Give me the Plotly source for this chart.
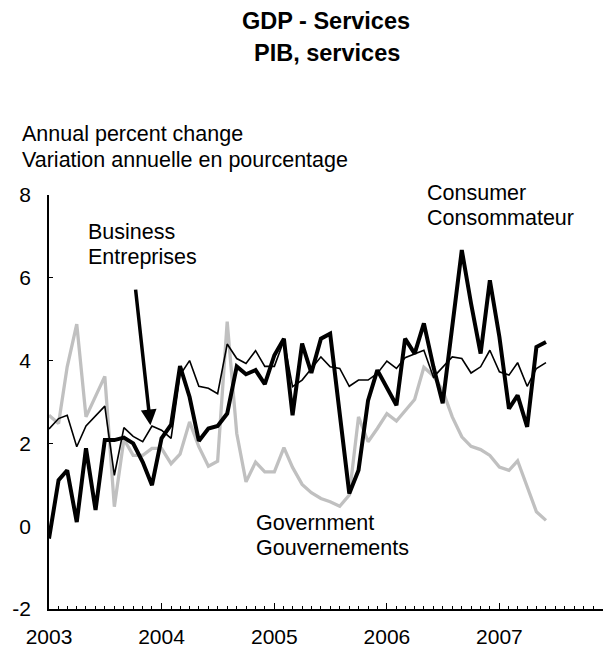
import pandas as pd
import plotly.graph_objects as go

months = pd.date_range("2003-01-01", periods=54, freq="MS")

business = [-0.3, 1.11, 1.35, 0.1, 1.88, 0.39, 2.08, 2.08, 2.14, 2.0, 1.55, 0.99, 2.12, 2.45,
            3.87, 3.12, 2.06, 2.36, 2.42, 2.72, 3.86, 3.67, 3.77, 3.43, 4.13, 4.53, 2.68, 4.41,
            3.7, 4.53, 4.65, 2.72, 0.79, 1.35, 3.04, 3.77, 3.35, 2.92, 4.53, 4.17, 4.9, 3.85,
            2.97, 4.8, 6.67, 5.38, 4.17, 5.94, 4.57, 2.84, 3.16, 2.4, 4.33, 4.45]

consumer = [2.35, 2.6, 2.68, 1.92, 2.42, 2.66, 2.9, 1.23, 2.38, 2.17, 2.04, 2.42, 2.32, 2.12,
            3.65, 4.0, 3.38, 3.33, 3.2, 4.4, 4.05, 3.93, 4.24, 3.86, 3.86, 4.49, 3.37, 3.53,
            3.81, 4.09, 3.85, 3.81, 3.38, 3.53, 3.53, 3.69, 3.99, 3.81, 4.07, 4.17, 4.25, 3.6,
            3.85, 4.09, 4.05, 3.7, 3.85, 4.25, 3.73, 3.65, 3.95, 3.38, 3.81, 3.95]

government = [2.68, 2.48, 3.85, 4.88, 2.64, 3.16, 3.62, 0.47, 2.1, 1.71, 1.71, 1.88, 1.88, 1.51,
              1.74, 2.52, 1.92, 1.45, 1.57, 4.94, 2.24, 1.07, 1.55, 1.31, 1.31, 1.9, 1.42, 1.01,
              0.81, 0.67, 0.59, 0.48, 0.75, 2.64, 2.04, 2.36, 2.72, 2.54, 2.8, 3.06, 3.84, 3.63,
              3.28, 2.64, 2.16, 1.93, 1.85, 1.71, 1.43, 1.35, 1.58, 0.95, 0.35, 0.14]

y_ticks = [-2, 0, 2, 4, 6, 8]
y_tick_labels = ["-2", "0", "2", "4", "6", "8"]

FONT = "Liberation Sans, Arial, sans-serif"
FS = 21.5

W, H = 603, 650
L, R, T, B = 49, 0, 195, 41
pw, ph = W - L - R, H - T - B


def px(x):
    return (x - L) / pw


def py(y):
    return (H - B - y) / ph


fig = go.Figure()
fig.add_trace(go.Scatter(x=months, y=government, mode="lines",
                         line=dict(color="#c0c0c0", width=3.3), name="Government"))
fig.add_trace(go.Scatter(x=months, y=consumer, mode="lines",
                         line=dict(color="black", width=1.6), name="Consumer"))
fig.add_trace(go.Scatter(x=months, y=business, mode="lines",
                         line=dict(color="black", width=4), name="Business"))

annos = []


def text(t, x, y, bold=False, xanchor="left"):
    annos.append(dict(text=f"<b>{t}</b>" if bold else t, x=px(x), y=py(y), xref="paper", yref="paper",
                      xanchor=xanchor, yanchor="middle", showarrow=False,
                      font=dict(family=FONT, size=23.5 if bold else FS, color="black")))


text("GDP - Services", 326, 21, bold=True, xanchor="center")
text("PIB, services", 327, 53, bold=True, xanchor="center")
text("Annual percent change", 20, 134)
text("Variation annuelle en pourcentage", 20, 160)
text("Business", 86, 232)
text("Entreprises", 86, 257)
text("Consumer", 425, 193)
text("Consommateur", 425, 218)
text("Government", 254, 523)
text("Gouvernements", 254, 548)

annos.append(dict(x="2003-11-26", y=2.44, xref="x", yref="y", ax=-15, ay=-137,
                  axref="pixel", ayref="pixel", showarrow=True, arrowhead=2,
                  arrowsize=0.9, arrowwidth=3.5, arrowcolor="black", text=""))

fig.update_layout(
    width=W, height=H,
    margin=dict(l=L, r=R, t=T, b=B, pad=0),
    paper_bgcolor="white", plot_bgcolor="white",
    showlegend=False,
    font=dict(family=FONT, size=FS, color="black"),
    annotations=annos,
    xaxis=dict(type="date", range=["2003-01-01", "2007-12-03"],
               tick0="2003-01-01", dtick="M12", tickformat="%Y",
               ticks="inside", ticklen=6, tickwidth=1.3, tickcolor="black",
               showline=True, linecolor="black", linewidth=1.6,
               showgrid=False, zeroline=False, ticklabelstandoff=8,
               minor=dict(dtick="M1", ticks="inside", ticklen=3.5, tickwidth=1.2,
                          tickcolor="black", showgrid=False),
               tickfont=dict(family=FONT, size=21)),
    yaxis=dict(range=[-2, 8], tickmode="array", tickvals=y_ticks, ticktext=y_tick_labels,
               ticks="inside", ticklen=4, tickwidth=1.3, tickcolor="black",
               showline=True, linecolor="black", linewidth=1.6,
               showgrid=False, zeroline=False, ticklabelstandoff=12,
               tickfont=dict(family=FONT, size=21)),
)

fig.write_html("out.html", config={"displayModeBar": False},
               post_script="document.body.style.margin='0';document.body.style.overflow='hidden';")
